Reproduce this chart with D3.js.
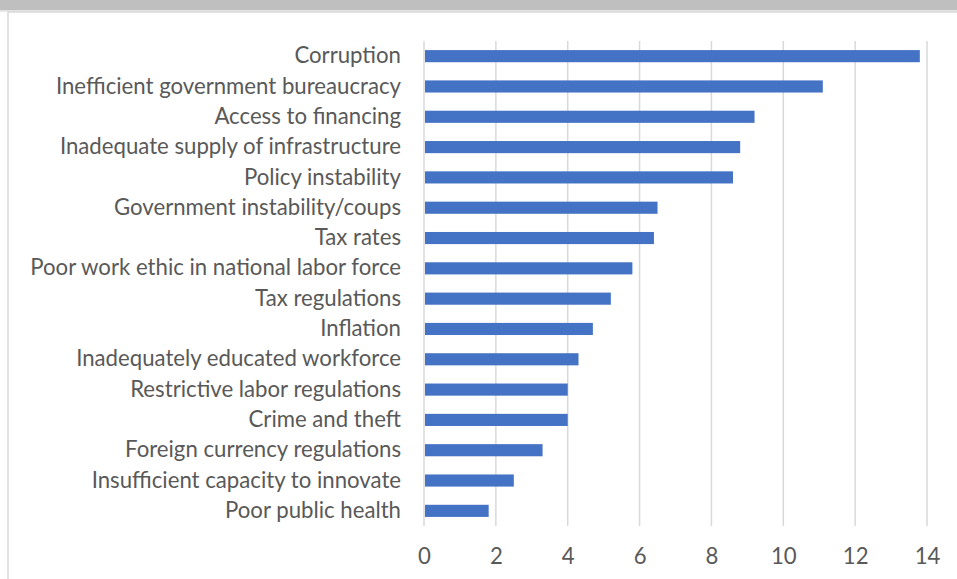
<!DOCTYPE html>
<html>
<head>
<meta charset="utf-8">
<script src="https://cdn.jsdelivr.net/npm/d3@7"></script>
<style>
  html, body { margin: 0; padding: 0; background: #ffffff; }
  svg { display: block; }
</style>
</head>
<body>
<svg id="chart" width="957" height="579"></svg>
<script>
// Most problematic factors for doing business (% of responses)
const categories = [
  "Corruption",
  "Inefficient government bureaucracy",
  "Access to financing",
  "Inadequate supply of infrastructure",
  "Policy instability",
  "Government instability/coups",
  "Tax rates",
  "Poor work ethic in national labor force",
  "Tax regulations",
  "Inflation",
  "Inadequately educated workforce",
  "Restrictive labor regulations",
  "Crime and theft",
  "Foreign currency regulations",
  "Insufficient capacity to innovate",
  "Poor public health"
];
const values = [13.8, 11.1, 9.2, 8.8, 8.6, 6.5, 6.4, 5.8, 5.2, 4.7, 4.3, 4.0, 4.0, 3.3, 2.5, 1.8];
const xTicks = [0, 2, 4, 6, 8, 10, 12, 14];

const svg = d3.select("#chart");
const W = 957, H = 579;
const plot = { left: 424, right: 927, top: 41, bottom: 526 };
const textColor = "#595959";
const fontFamily = "Lato, 'Open Sans', sans-serif";
const fontSize = "22.2px";

// Header strip and chart frame
svg.append("rect").attr("x", 0).attr("y", 0).attr("width", W).attr("height", 10.5).attr("fill", "#bfbfbf");
svg.append("rect").attr("x", 0).attr("y", 10.5).attr("width", W).attr("height", 1.5).attr("fill", "#e6e6e6");
svg.append("rect").attr("x", 8).attr("y", 12).attr("width", W).attr("height", H)
  .attr("fill", "#ffffff").attr("stroke", "#d9d9d9").attr("stroke-width", 1.5);

const x = d3.scaleLinear().domain([0, 14]).range([plot.left, plot.right]);
const y = d3.scaleBand().domain(categories).range([plot.top, plot.bottom]).paddingInner(0.6).paddingOuter(0.3);

// Vertical gridlines
svg.append("g").selectAll("line").data(xTicks).join("line")
  .attr("x1", d => x(d)).attr("x2", d => x(d))
  .attr("y1", plot.top).attr("y2", plot.bottom)
  .attr("stroke", "#d9d9d9").attr("stroke-width", 1.5);

// Bars
svg.append("g").selectAll("rect").data(categories).join("rect")
  .attr("x", x(0) + 1)
  .attr("y", d => y(d))
  .attr("width", (d, i) => x(values[i]) - x(0) - 1)
  .attr("height", y.bandwidth())
  .attr("fill", "#4472c4");

// Category labels
const yAxis = d3.axisLeft(y).tickSize(0).tickPadding(0);
const gy = svg.append("g").attr("transform", `translate(${plot.left - 23},0)`).call(yAxis);
gy.select(".domain").remove();
gy.selectAll("text").attr("fill", textColor).style("font-family", fontFamily).style("font-size", fontSize);

// Value axis labels
const xAxis = d3.axisBottom(x).tickValues(xTicks).tickSize(0).tickPadding(0).tickFormat(d3.format("d"));
const gx = svg.append("g").attr("transform", `translate(0,${plot.bottom + 22})`).call(xAxis);
gx.select(".domain").remove();
gx.selectAll("text").attr("fill", textColor).style("font-family", fontFamily).style("font-size", fontSize);
</script>
</body>
</html>
